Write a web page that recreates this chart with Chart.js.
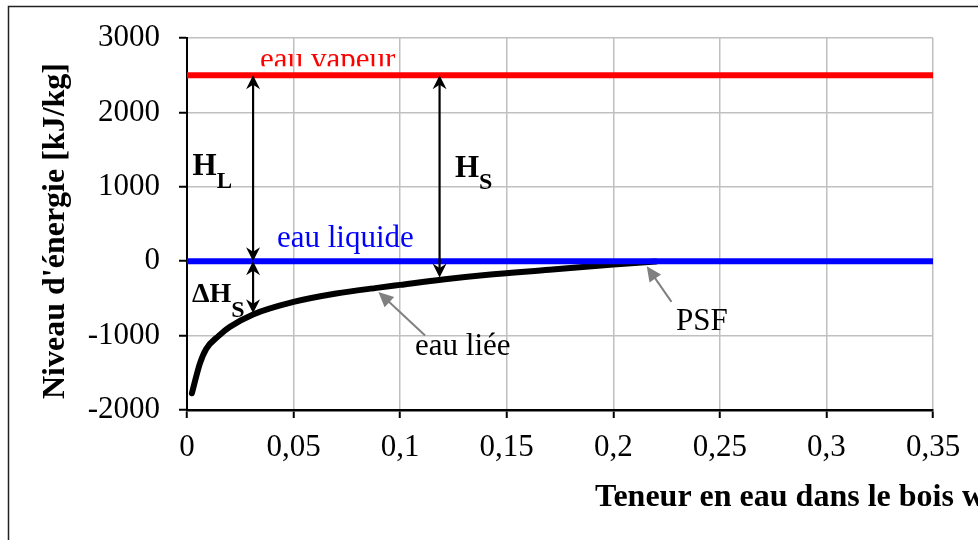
<!DOCTYPE html>
<html>
<head>
<meta charset="utf-8">
<script src="https://cdn.jsdelivr.net/npm/chart.js@4.4.0/dist/chart.umd.min.js"></script>
<style>
    html, body {margin: 0; padding: 0; background: #fff;}
    #wrap {width: 978px; height: 540px;}
</style>
</head>
<body>
<div id="wrap"><canvas id="energyChart" width="978" height="540"></canvas></div>
<script>
// --  data  --
const xTickLabels = ['0', '0,05', '0,1', '0,15', '0,2', '0,25', '0,3', '0,35']
const yTickLabels = ['-2000', '-1000', '0', '1000', '2000', '3000']

const boundX = [0.0023, 0.006, 0.009, 0.015, 0.02, 0.031, 0.05, 0.07, 0.09, 0.1, 0.12, 0.14, 0.17, 0.2, 0.22]
const boundY = [-1775, -1380, -1180, -1000, -885, -715, -547, -434, -355, -318, -245, -185, -115, -45, -5]

const levelX = [0, 0.35]
const vapourY = [2500, 2500]
const liquidY = [0, 0]

function toPoints (xs, ys) {
    //turns two arrays into the {x, y} objects chart.js wants
    return xs.map((x, i) => ({x: x, y: ys[i]}))
}

const serif = '"Liberation Serif", "Times New Roman", serif'
Chart.defaults.font.family = serif
Chart.defaults.color = '#000'

// --  drawing helpers  --
function arrowHead (ctx, tipX, tipY, angle, len, half, notch, color) {
    ctx.save()
    ctx.translate(tipX, tipY)
    ctx.rotate(angle)
    ctx.fillStyle = color
    ctx.beginPath()
    ctx.moveTo(0, 0)
    ctx.lineTo(-len, -half)
    ctx.lineTo(-len + notch, 0)
    ctx.lineTo(-len, half)
    ctx.closePath()
    ctx.fill()
    ctx.restore()
}

function doubleArrow (ctx, x, yTop, yBottom) {
    ctx.save()
    ctx.strokeStyle = '#000'
    ctx.lineWidth = 2.2
    ctx.beginPath()
    ctx.moveTo(x, yTop + 6)
    ctx.lineTo(x, yBottom - 6)
    ctx.stroke()
    ctx.restore()
    arrowHead(ctx, x, yTop, -Math.PI / 2, 14, 7, 4.5, '#000')
    arrowHead(ctx, x, yBottom, Math.PI / 2, 14, 7, 4.5, '#000')
}

function grayArrow (ctx, x1, y1, x2, y2) {
    //from tail (x1,y1) to tip (x2,y2)
    const angle = Math.atan2(y2 - y1, x2 - x1)
    ctx.save()
    ctx.strokeStyle = '#808080'
    ctx.lineWidth = 2
    ctx.beginPath()
    ctx.moveTo(x1, y1)
    ctx.lineTo(x2 - 10 * Math.cos(angle), y2 - 10 * Math.sin(angle))
    ctx.stroke()
    ctx.restore()
    arrowHead(ctx, x2, y2, angle, 15, 7, 0, '#808080')
}

function subText (ctx, x, y, main, mainSize, sub, subSize, subY) {
    ctx.font = 'bold ' + mainSize + 'px ' + serif
    ctx.fillText(main, x, y)
    const w = ctx.measureText(main).width
    ctx.font = 'bold ' + subSize + 'px ' + serif
    ctx.fillText(sub, x + w, subY)
}

const energyAnnotations = {
    id: 'energyAnnotations',
    beforeDatasetsDraw (chart) {
        const ctx = chart.ctx
        const xs = chart.scales.x, ys = chart.scales.y
        const lineY = ys.getPixelForValue(2500)
        ctx.save()
        ctx.beginPath()
        ctx.rect(0, 0, chart.width, lineY - 9)
        ctx.clip()
        ctx.fillStyle = '#ff0000'
        ctx.font = '31px ' + serif
        ctx.textBaseline = 'alphabetic'
        ctx.fillText('eau vapeur', xs.getPixelForValue(0.0343), ys.getPixelForValue(2590))
        ctx.restore()
    },
    afterDatasetsDraw (chart) {
        const ctx = chart.ctx
        const xs = chart.scales.x, ys = chart.scales.y
        const px = v => xs.getPixelForValue(v)
        const py = v => ys.getPixelForValue(v)

        // vertical energy arrows
        doubleArrow(ctx, px(0.031), py(2500), py(0))
        doubleArrow(ctx, px(0.031), py(0), py(-700))
        doubleArrow(ctx, px(0.1185), py(2500), py(-220))

        // gray pointers
        grayArrow(ctx, px(0.1117), py(-1000), px(0.0898), py(-413))
        grayArrow(ctx, px(0.2273), py(-547), px(0.2157), py(-67))

        ctx.save()
        ctx.textBaseline = 'alphabetic'
        ctx.textAlign = 'left'
        ctx.fillStyle = '#0000ff'
        ctx.font = '31px ' + serif
        ctx.fillText('eau liquide', px(0.0422), py(188))

        ctx.fillStyle = '#000'
        ctx.fillText('eau liée', px(0.107), py(-1263))
        ctx.fillText('PSF', px(0.2294), py(-927))

        subText(ctx, px(0.0026), py(1156), 'H', 31, 'L', 23, py(990))
        subText(ctx, px(0.1257), py(1129), 'H', 31, 'S', 24, py(975))
        subText(ctx, px(0.0023), py(-551), '\u0394H', 28, 'S', 24, py(-755))
        ctx.restore()
    },
    afterDraw (chart) {
        const ctx = chart.ctx
        ctx.save()
        // outer frame
        ctx.strokeStyle = '#222'
        ctx.lineWidth = 1.5
        ctx.strokeRect(8.5, 6.5, 2000, 2000)

        // axis titles
        ctx.fillStyle = '#000'
        ctx.font = 'bold 32px ' + serif
        ctx.textBaseline = 'alphabetic'
        ctx.textAlign = 'left'
        ctx.fillText('Teneur en eau dans le bois w', 595, 506)

        ctx.translate(64, 231)
        ctx.rotate(-Math.PI / 2)
        ctx.textAlign = 'center'
        ctx.fillText("Niveau d'énergie [kJ/kg]", 0, 0)
        ctx.restore()
    }
}

const chartObj = {
    type: 'line',
    data: {
        datasets: [
            {
                label: 'eau liquide',
                data: toPoints(levelX, liquidY),
                borderColor: '#0000ff',
                borderWidth: 6,
                pointRadius: 0
            },
            {
                label: 'eau vapeur',
                data: toPoints(levelX, vapourY),
                borderColor: '#ff0000',
                borderWidth: 6,
                pointRadius: 0
            },
            {
                label: 'eau liée',
                data: toPoints(boundX, boundY),
                borderColor: '#000',
                borderWidth: 6,
                borderCapStyle: 'round',
                cubicInterpolationMode: 'monotone',
                pointRadius: 0
            }
        ]
    },
    options: {
        responsive: false,
        animation: false,
        events: [],
        layout: {padding: {left: 0, top: 38, right: 45, bottom: 0}},
        plugins: {
            legend: {display: false},
            tooltip: {enabled: false}
        },
        scales: {
            x: {
                type: 'linear',
                min: 0,
                max: 0.35,
                ticks: {
                    stepSize: 0.05,
                    autoSkip: false,
                    maxRotation: 0,
                    padding: 11,
                    font: {size: 31},
                    callback: (v, i) => xTickLabels[i]
                },
                grid: {color: '#c0c0c0', lineWidth: 1.5, tickColor: '#000', tickWidth: 2, tickLength: 8},
                border: {color: '#000', width: 2.5},
                afterFit: scale => { scale.height = 130 }
            },
            y: {
                min: -2000,
                max: 3000,
                ticks: {
                    stepSize: 1000,
                    padding: 19,
                    font: {size: 31},
                    callback: (v, i) => yTickLabels[i]
                },
                grid: {color: '#c0c0c0', lineWidth: 1.5, tickColor: '#000', tickWidth: 2, tickLength: 8},
                border: {color: '#000', width: 2},
                afterFit: scale => { scale.width = 187 }
            }
        }
    },
    plugins: [energyAnnotations]
}

const chartDom = document.getElementById('energyChart').getContext('2d')
new Chart(chartDom, chartObj)
</script>
</body>
</html>
